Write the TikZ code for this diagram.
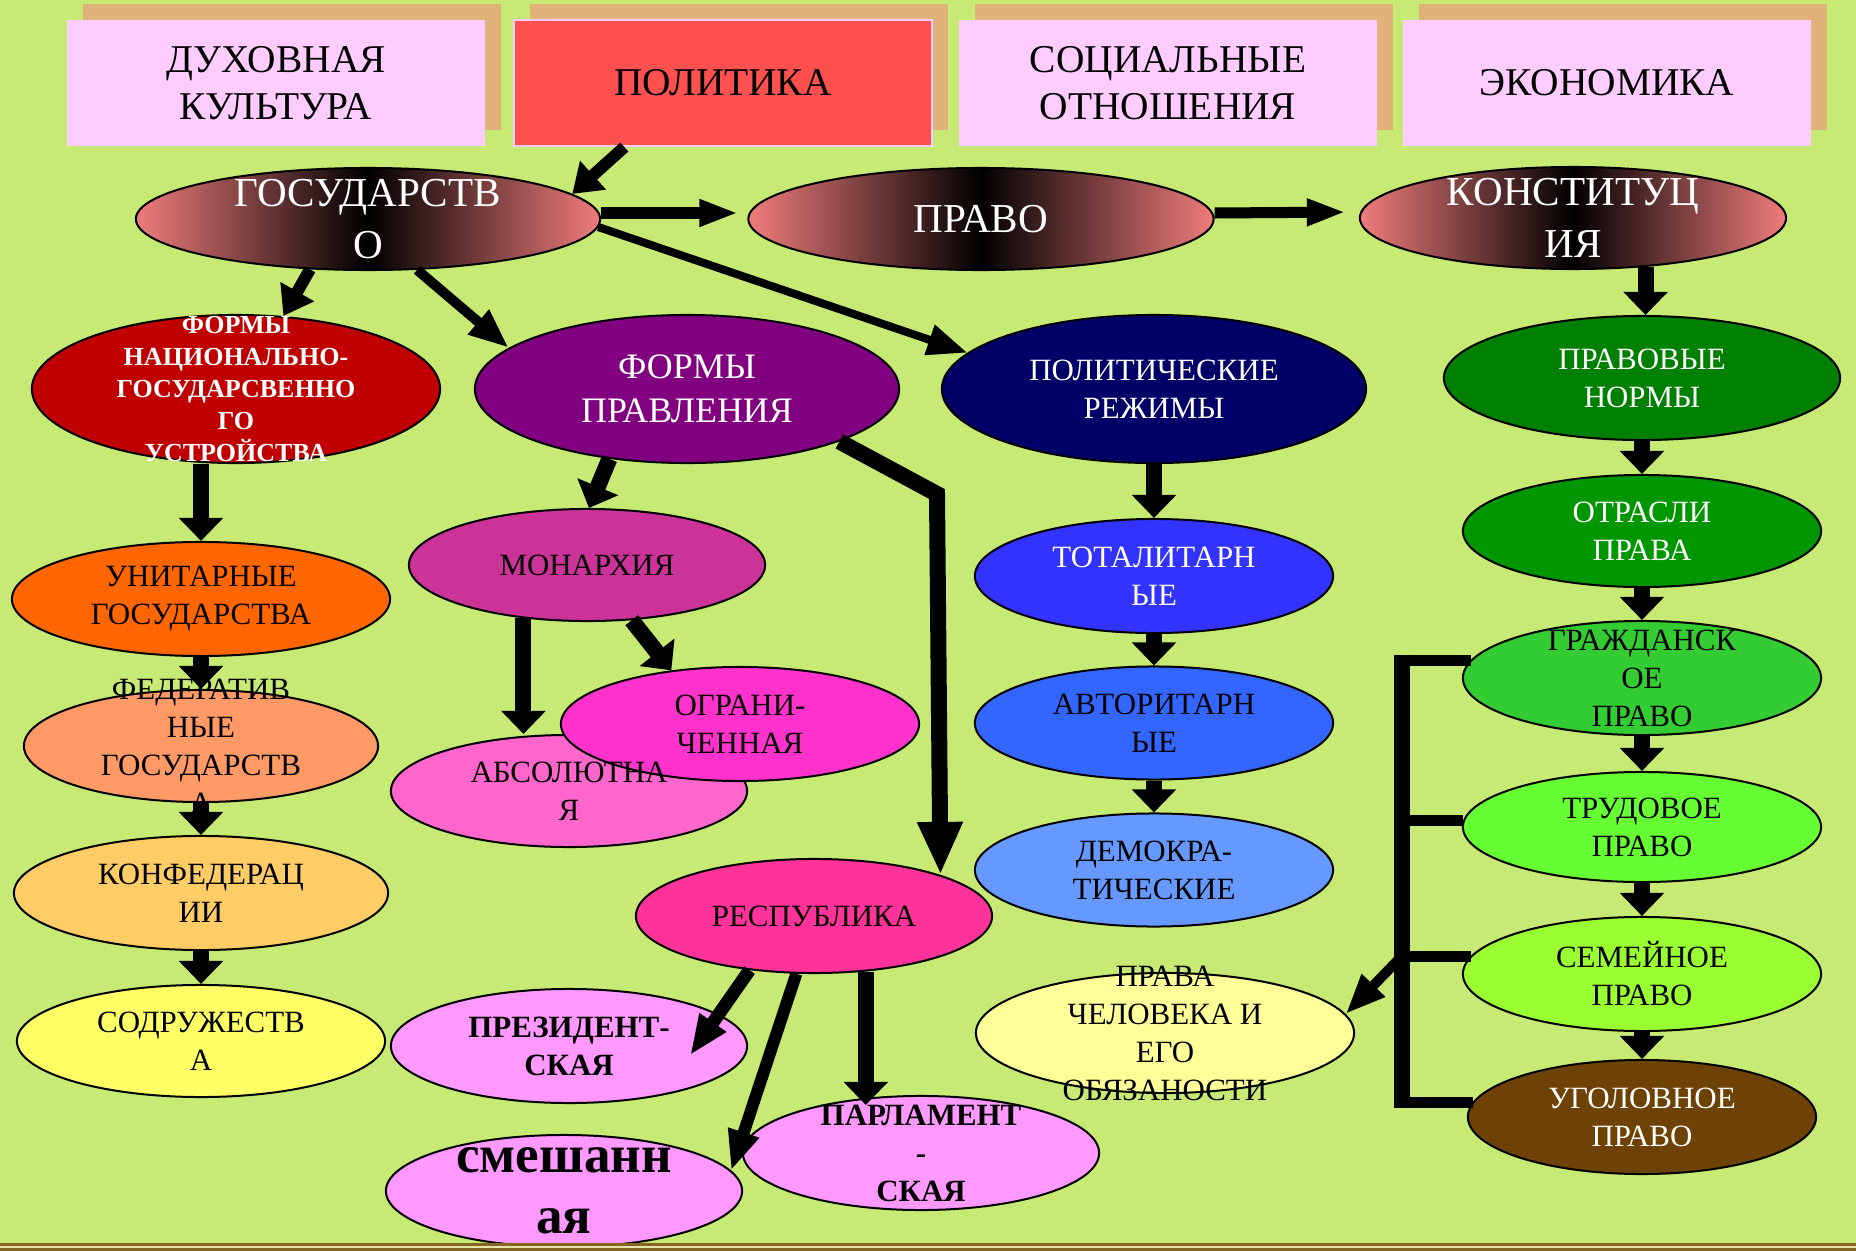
\documentclass[tikz,border=0pt]{standalone}
\usepackage{fontspec}
\setmainfont{Liberation Serif}
\usetikzlibrary{shapes.geometric,arrows.meta,shadows}

\definecolor{bg}{HTML}{C6EA73}
\definecolor{tanshadow}{HTML}{E1B27A}
\definecolor{pinkbox}{HTML}{FFCCFF}
\definecolor{redbox}{HTML}{FF5050}
\definecolor{gradc}{HTML}{F07C7C}
\definecolor{cnac}{HTML}{C00000}
\definecolor{cfp}{HTML}{800080}
\definecolor{cpr}{HTML}{000066}
\definecolor{cnorm}{HTML}{008000}
\definecolor{cotr}{HTML}{009600}
\definecolor{cgr}{HTML}{33CC33}
\definecolor{ctrud}{HTML}{66FF33}
\definecolor{csem}{HTML}{99FF33}
\definecolor{cugol}{HTML}{6E4205}
\definecolor{ctot}{HTML}{3333FF}
\definecolor{cavt}{HTML}{3366FF}
\definecolor{cdem}{HTML}{6699FF}
\definecolor{cprava}{HTML}{FFFF99}
\definecolor{cunit}{HTML}{FF6600}
\definecolor{cfed}{HTML}{FF9966}
\definecolor{ckonf}{HTML}{FFCC66}
\definecolor{csodr}{HTML}{FFFF66}
\definecolor{cmon}{HTML}{CC3399}
\definecolor{cabs}{HTML}{FF66CC}
\definecolor{cogr}{HTML}{FF33CC}
\definecolor{cresp}{HTML}{FF3399}
\definecolor{cmix}{HTML}{FF99FF}
\definecolor{brownline}{HTML}{836422}
\definecolor{paleline}{HTML}{E6E6AA}

\newcommand\szbox{\fontsize{11.2}{13.4}\selectfont}
\newcommand\szbig{\fontsize{11.7}{14.8}\selectfont}
\newcommand\szmid{\fontsize{10.2}{12.5}\selectfont}
\newcommand\sznorm{\fontsize{8.8}{10.8}\selectfont}
\newcommand\szsmall{\fontsize{7.4}{9.1}\selectfont}
\newcommand\szhuge{\fontsize{15.1}{17.4}\selectfont}

\begin{document}
\begin{tikzpicture}[x=0.01cm, y=-0.01cm,
  topbox/.style={rectangle, minimum width=4.18cm, minimum height=1.26cm, inner sep=0pt,
    font=\szbox, align=center,
    general shadow={fill=tanshadow, shadow xshift=0.16cm, shadow yshift=0.16cm}},
  ell/.style={ellipse, draw=black, line width=0.02cm, inner sep=0pt, align=center, font=\sznorm},
  grad/.style={ell, left color=gradc, right color=gradc, middle color=black, text=white, font=\szbig},
  lbl/.style={align=center, inner sep=0pt},
  varrow/.style={line width=0.16cm, -{Triangle[length=0.23cm, width=0.43cm]}},
  sarrow/.style={line width=0.12cm, -{Triangle[length=0.28cm, width=0.37cm]}},
  harrow/.style={line width=0.11cm, -{Triangle[length=0.39cm, width=0.25cm]}},
  darrow/.style={line width=0.10cm, -{Triangle[length=0.40cm, width=0.30cm]}},
  larrow/.style={line width=0.16cm, -{Triangle[length=0.53cm, width=0.42cm]}},
  brkh/.style={line width=0.11cm},
  brkv/.style={line width=0.16cm, shorten <=-0.055cm, shorten >=-0.055cm}]

\def\xa{201}
\def\xb{1154}
\def\xc{1642}

\useasboundingbox (0,0) rectangle (1856,1251);
\fill[bg] (0,0) rectangle (1856,1251);

\node[topbox, fill=pinkbox] (dux) at (276,83) {ДУХОВНАЯ\\КУЛЬТУРА};
\node[topbox, fill=redbox, draw=pinkbox, line width=0.02cm] (polit) at (723,83) {ПОЛИТИКА};
\node[topbox, fill=pinkbox] (soc) at (1168,83) {СОЦИАЛЬНЫЕ\\ОТНОШЕНИЯ};
\node[topbox, fill=pinkbox, minimum width=4.08cm] (econ) at (1607,83) {ЭКОНОМИКА};

\node[grad, minimum width=4.64cm, minimum height=1.02cm,
  label={[lbl, text=white, font=\szbig]center:{ГОСУДАРСТВ\\О}}] (gos) at (368,219) {};
\node[grad, minimum width=4.65cm, minimum height=1.02cm] (pravo) at (981,219) {ПРАВО};
\node[grad, minimum width=4.26cm, minimum height=1.02cm,
  label={[lbl, text=white, font=\szbig]center:{КОНСТИТУЦ\\ИЯ}}] (konst) at (1573,218) {};

\node[ell, fill=cnac, minimum width=4.08cm, minimum height=1.48cm,
  label={[lbl, text=white, font=\szsmall\bfseries]center:{ФОРМЫ\\НАЦИОНАЛЬНО-\\ГОСУДАРСВЕННО\\ГО\\УСТРОЙСТВА}}] (fnac) at (236,389) {};
\node[ell, fill=cfp, minimum width=4.24cm, minimum height=1.48cm, text=white, font=\szmid] (fp) at (687,389) {ФОРМЫ\\ПРАВЛЕНИЯ};
\node[ell, fill=cpr, minimum width=4.24cm, minimum height=1.48cm, text=white] (pr) at (\xb,389) {ПОЛИТИЧЕСКИЕ\\РЕЖИМЫ};
\node[ell, fill=cnorm, minimum width=3.96cm, minimum height=1.24cm, text=white] (pnorm) at (\xc,378) {ПРАВОВЫЕ\\НОРМЫ};
\node[ell, fill=cotr, minimum width=3.58cm, minimum height=1.12cm, text=white] (otr) at (\xc,531) {ОТРАСЛИ\\ПРАВА};
\node[ell, fill=cgr, minimum width=3.58cm, minimum height=1.14cm,
  label={[lbl, font=\sznorm]center:{ГРАЖДАНСК\\ОЕ\\ПРАВО}}] (grazh) at (\xc,678) {};
\node[ell, fill=ctrud, minimum width=3.58cm, minimum height=1.10cm] (trud) at (\xc,827) {ТРУДОВОЕ\\ПРАВО};
\node[ell, fill=csem, minimum width=3.58cm, minimum height=1.14cm] (sem) at (\xc,974) {СЕМЕЙНОЕ\\ПРАВО};
\node[ell, fill=cugol, minimum width=3.48cm, minimum height=1.14cm, text=white] (ugol) at (\xc,1117) {УГОЛОВНОЕ\\ПРАВО};

\node[ell, fill=ctot, minimum width=3.58cm, minimum height=1.14cm, text=white] (tot) at (\xb,576) {ТОТАЛИТАРН\\ЫЕ};
\node[ell, fill=cavt, minimum width=3.58cm, minimum height=1.13cm] (avt) at (\xb,723) {АВТОРИТАРН\\ЫЕ};
\node[ell, fill=cdem, minimum width=3.58cm, minimum height=1.13cm] (dem) at (\xb,870) {ДЕМОКРА-\\ТИЧЕСКИЕ};
\node[ell, fill=cprava, minimum width=3.78cm, minimum height=1.20cm,
  label={[lbl, font=\sznorm]center:{ПРАВА\\ЧЕЛОВЕКА И\\ЕГО\\ОБЯЗАНОСТИ}}] (prava) at (1165,1033) {};

\node[ell, fill=cunit, minimum width=3.78cm, minimum height=1.14cm] (unit) at (\xa,599) {УНИТАРНЫЕ\\ГОСУДАРСТВА};
\node[ell, fill=cfed, minimum width=3.54cm, minimum height=1.12cm,
  label={[lbl, font=\sznorm]center:{ФЕДЕРАТИВ\\НЫЕ\\ГОСУДАРСТВ\\А}}] (fed) at (\xa,746) {};
\node[ell, fill=ckonf, minimum width=3.74cm, minimum height=1.14cm] (konf) at (\xa,893) {КОНФЕДЕРАЦ\\ИИ};
\node[ell, fill=csodr, minimum width=3.68cm, minimum height=1.12cm] (sodr) at (\xa,1041) {СОДРУЖЕСТВ\\А};

\node[ell, fill=cmon, minimum width=3.56cm, minimum height=1.12cm] (mon) at (587,565) {МОНАРХИЯ};
\node[ell, fill=cabs, minimum width=3.56cm, minimum height=1.12cm] (absol) at (569,791) {};
\node[ell, fill=cogr, minimum width=3.58cm, minimum height=1.14cm] (ogr) at (740,724) {ОГРАНИ-\\ЧЕННАЯ};
\node[lbl, font=\sznorm] (abstxt) at (absol) {АБСОЛЮТНА\\Я};
\node[ell, fill=cresp, minimum width=3.56cm, minimum height=1.14cm] (resp) at (814,916) {РЕСПУБЛИКА};
\node[ell, fill=cmix, minimum width=3.56cm, minimum height=1.14cm, font=\sznorm\bfseries] (prez) at (569,1046) {ПРЕЗИДЕНТ-\\СКАЯ};
\node[ell, fill=cmix, minimum width=3.56cm, minimum height=1.12cm,
  label={[lbl, font=\szhuge\bfseries]center:{смешанн\\ая}}] (smesh) at (564,1191) {};
\node[ell, fill=cmix, minimum width=3.56cm, minimum height=1.14cm,
  label={[lbl, font=\sznorm\bfseries]center:{ПАРЛАМЕНТ\\-\\СКАЯ}}] (parl) at (921,1153) {};

\coordinate (bend) at (937,494);
\coordinate (bk) at (1402,0);

\draw[sarrow] (polit.213) -- (gos.7);
\draw[harrow, shorten >=0.09cm] ([yshift=0.06cm]gos.east) -- ([yshift=0.06cm]pravo.west);
\draw[harrow, shorten >=0.13cm] ([yshift=0.06cm]pravo.east) -- ([yshift=0.06cm]konst.west);
\draw[sarrow] (gos.221) -- (fnac.57);
\draw[darrow] (gos.314) -- (fp.167);
\draw[darrow, line width=0.08cm] (gos.358) -- (pr.169);
\draw[varrow] (konst.326) -- (konst.326 |- pnorm.north);

\draw[varrow] (pnorm) -- (otr);
\draw[varrow] (otr) -- (grazh);
\draw[varrow] (grazh) -- (trud);
\draw[varrow] (trud) -- (sem);
\draw[varrow] (sem) -- (ugol);

\draw[varrow] (pr) -- (tot);
\draw[varrow] (tot) -- (avt);
\draw[varrow] (avt) -- (dem);

\draw[varrow] (fnac.south -| unit.north) -- (unit.north);
\draw[varrow] (unit) -- (fed);
\draw[varrow] (fed) -- (konf);
\draw[varrow] (konf) -- (sodr);

\draw[varrow] (fp.222) -- (mon.88);
\draw[larrow] (fp.341) -- (bend) -- (resp.18);
\draw[varrow] (mon.220) -- (mon.220 |- absol.north);
\draw[varrow] (mon.309) -- (ogr.142);
\draw[darrow, line width=0.13cm, shorten >=-0.5cm] (resp.220) -- (prez.12);
\draw[darrow, line width=0.12cm] (resp.253) -- (smesh.7);
\draw[varrow, shorten >=-0.1cm] (resp.313) -- (resp.313 |- parl.north);

\draw[brkh] (grazh.174) -- (grazh.174 -| bk);
\draw[brkh] (trud.178) -- (trud.178 -| bk);
\draw[brkh] (sem.174) -- (sem.174 -| bk);
\draw[brkh] (ugol.175) -- (ugol.175 -| bk);
\draw[brkv] (grazh.174 -| bk) -- (ugol.175 -| bk);
\draw[darrow] (sem.174 -| bk) -- (prava.6);

\fill[brownline] (0,1243) rectangle (1856,1245.5);
\fill[paleline] (0,1245.5) rectangle (1856,1248);
\fill[brownline] (0,1248) rectangle (1856,1251);
\end{tikzpicture}
\end{document}
